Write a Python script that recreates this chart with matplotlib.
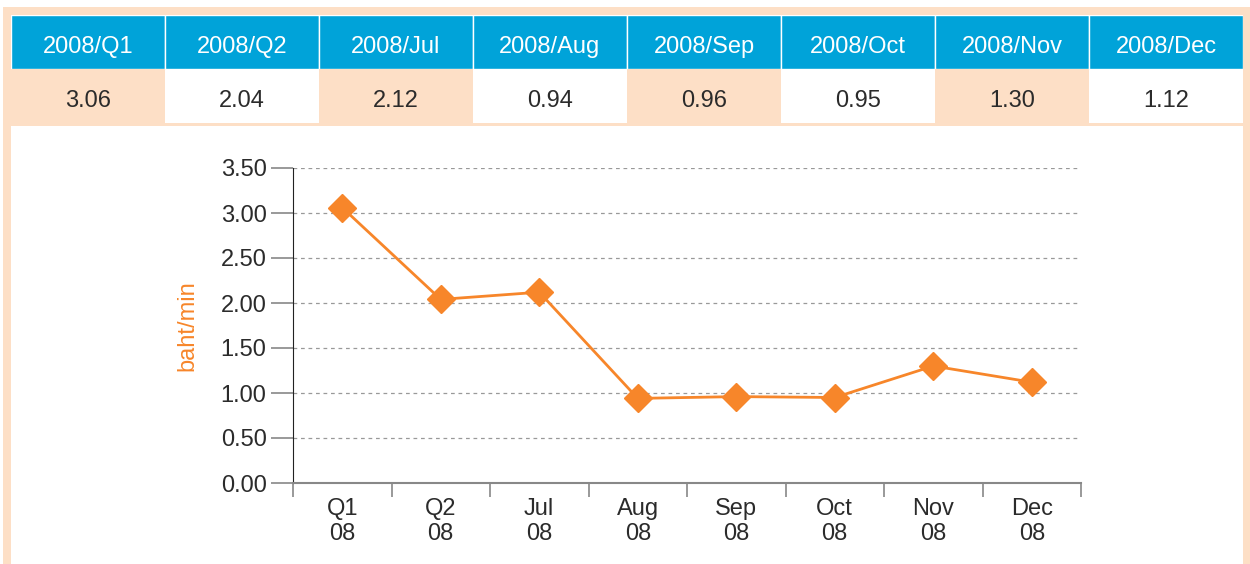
import matplotlib.pyplot as plt
from matplotlib.patches import Rectangle

# data
headers = ['2008/Q1', '2008/Q2', '2008/Jul', '2008/Aug', '2008/Sep', '2008/Oct', '2008/Nov', '2008/Dec']
values = [3.06, 2.04, 2.12, 0.94, 0.96, 0.95, 1.30, 1.12]
x_labels = ['Q1\n08', 'Q2\n08', 'Jul\n08', 'Aug\n08', 'Sep\n08', 'Oct\n08', 'Nov\n08', 'Dec\n08']
y_ticks = [0.0, 0.5, 1.0, 1.5, 2.0, 2.5, 3.0, 3.5]

PEACH = '#FDDFC6'
BLUE = '#00A3D9'
ORANGE = '#F7862A'
DARK = '#2B2B2B'
FS = 17

plt.rcParams['font.family'] = ['Liberation Sans', 'DejaVu Sans']

W, H = 1250, 564
fig = plt.figure(figsize=(W / 100, H / 100), dpi=100)
fig.patch.set_facecolor('white')


def px(x0, y0, x1, y1):
    # pixel box (top-left origin) -> figure fraction rect
    return [x0 / W, 1 - y1 / H, (x1 - x0) / W, (y1 - y0) / H]


# peach frame with white inner area
fig.add_artist(Rectangle((3 / W, 0), 1247 / W, 1 - 7 / H, transform=fig.transFigure,
                         facecolor=PEACH, edgecolor='none', zorder=0))
fig.add_artist(Rectangle((11 / W, 0), 1232 / W, 1 - 126 / H, transform=fig.transFigure,
                         facecolor='white', edgecolor='none', zorder=0))

# table
tab = fig.add_axes(px(11, 15, 1243, 123))
tab.set_xlim(0, len(headers))
tab.set_ylim(0, 2)
tab.axis('off')
for i, (h, v) in enumerate(zip(headers, values)):
    tab.add_patch(Rectangle((i, 1), 1, 1, facecolor=BLUE, edgecolor='white', linewidth=1))
    tab.add_patch(Rectangle((i, 0), 1, 1, facecolor=PEACH if i % 2 == 0 else 'white',
                            edgecolor='none'))
    tab.text(i + 0.5, 1.45, h, ha='center', va='center_baseline', color='white', fontsize=FS)
    tab.text(i + 0.5, 0.45, f'{v:.2f}', ha='center', va='center_baseline', color=DARK, fontsize=FS)

# chart
ax = fig.add_axes(px(293, 168, 1081, 483))
xs = list(range(len(values)))
ax.plot(xs, values, color=ORANGE, linewidth=2, marker='D', markersize=14,
        markerfacecolor=ORANGE, markeredgecolor=ORANGE, zorder=3, clip_on=False)
ax.set_xlim(-0.5, len(values) - 0.5)
ax.set_ylim(0, 3.5)
ax.set_yticks(y_ticks)
ax.set_yticklabels([f'{t:.2f}' for t in y_ticks], fontsize=FS, color=DARK)
ax.tick_params(axis='y', length=16, color='#888888', width=1.2, pad=3)
ax.set_xticks([i - 0.5 for i in range(len(values) + 1)])
ax.set_xticklabels([])
ax.tick_params(axis='x', which='major', length=10, color='#888888', width=1.2)
ax.set_xticks(xs, minor=True)
ax.set_xticklabels(x_labels, minor=True, fontsize=FS, color=DARK, linespacing=1.15)
ax.tick_params(axis='x', which='minor', length=0, pad=11)
ax.grid(axis='y', color='#999999', linestyle=(0, (3, 3)), linewidth=0.9)
ax.set_axisbelow(True)
for s in ['top', 'right']:
    ax.spines[s].set_visible(False)
ax.spines['left'].set_color('#222222')
ax.spines['bottom'].set_color('#888888')
ax.spines['bottom'].set_linewidth(1.5)
ax.set_ylabel('baht/min', color=ORANGE, fontsize=FS, labelpad=16)

fig.savefig('out.png', dpi=100)
